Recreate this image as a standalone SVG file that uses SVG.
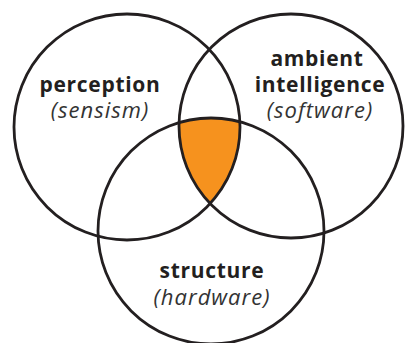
<svg xmlns="http://www.w3.org/2000/svg" width="405" height="343" viewBox="0 0 405 343">
<style>
.c{fill:none;stroke:#231F20;stroke-width:2.8}
.b{font-family:"Open Sans","Noto Sans",sans-serif;font-weight:bold;font-size:21px;fill:#231F20;text-anchor:middle;letter-spacing:0.7px}
.i{font-family:"Open Sans","Noto Sans",sans-serif;font-style:italic;font-size:22px;fill:#333;text-anchor:middle;letter-spacing:1px}
</style>
<defs>
<clipPath id="cL"><circle cx="127" cy="127" r="113"/></clipPath>
<clipPath id="cR"><circle cx="291" cy="126" r="112"/></clipPath>
</defs>
<rect width="405" height="343" fill="#fff"/>
<g id="overlap" clip-path="url(#cL)"><g clip-path="url(#cR)"><circle cx="211" cy="231" r="113" fill="#F6921E"/></g></g>
<g id="perception"><circle class="c" cx="127" cy="127" r="113"/><text class="b" x="100" y="92">perception</text><text class="i" x="100" y="118">(sensism)</text></g>
<g id="ambient"><circle class="c" cx="291" cy="126" r="112"/><text class="b" x="317" y="66">ambient</text><text class="b" x="320" y="92">intelligence</text><text class="i" x="320" y="118">(software)</text></g>
<g id="structure"><circle class="c" cx="211" cy="231" r="113"/><text class="b" x="212" y="278">structure</text><text class="i" x="212" y="305">(hardware)</text></g>
<g id="connectors"/>
</svg>
